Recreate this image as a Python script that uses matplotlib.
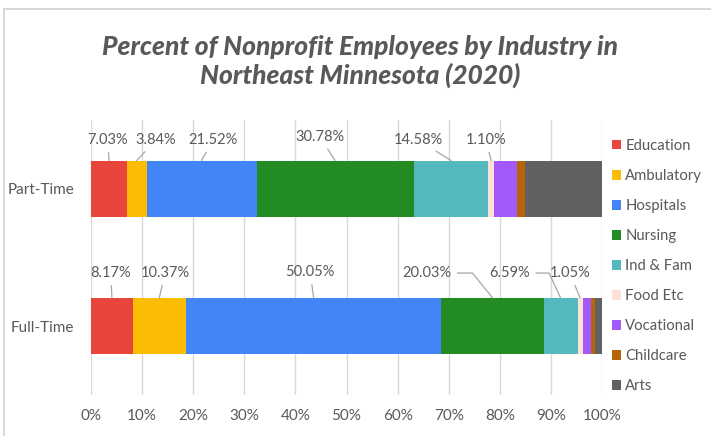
import matplotlib.pyplot as plt
from matplotlib.patches import Rectangle

plt.rcParams['font.family'] = ['Lato', 'DejaVu Sans']

# 数据
groups = ['Full-Time', 'Part-Time']
industries = ['Education', 'Ambulatory', 'Hospitals', 'Nursing', 'Ind & Fam',
              'Food Etc', 'Vocational', 'Childcare', 'Arts']
colors = ['#E8453C', '#FBBC04', '#4285F4', '#228B22', '#54B9BF',
          '#FCE1D9', '#A259F7', '#B8620A', '#616161']
full_time = [8.17, 10.37, 50.05, 20.03, 6.59, 1.05, 1.56, 0.78, 1.40]
part_time = [7.03, 3.84, 21.52, 30.78, 14.58, 1.10, 4.60, 1.55, 15.00]
xticks = [0, 10, 20, 30, 40, 50, 60, 70, 80, 90, 100]

grey = '#595959'
fig = plt.figure(figsize=(7.11, 4.36), dpi=100)

# 外框
fig.patches.append(Rectangle((4 / 711, -0.1), 1.1, 1 - 9 / 436 + 0.1,
                             transform=fig.transFigure, fill=False,
                             edgecolor='#d0d0d0', linewidth=1.2))

ax = fig.add_axes([91 / 711, 1 - 395 / 436, 511 / 711, 275 / 436])

bar_h = 0.41
values = [full_time, part_time]
for gi, vals in enumerate(values):
    left = 0
    for i, v in enumerate(vals):
        ax.barh(gi, v, left=left, height=bar_h, color=colors[i],
                label=industries[i] if gi == 0 else None, zorder=3)
        left += v

ax.set_xlim(0, 100)
ax.set_ylim(-0.5, 1.5)
ax.set_xticks(xticks)
ax.set_xticklabels([f'{t}%' for t in xticks])
ax.set_yticks([0, 1])
ax.set_yticklabels(groups)
ax.tick_params(length=0, colors=grey, labelsize=11)
ax.tick_params(axis='x', pad=10)
ax.tick_params(axis='y', pad=12)
ax.grid(axis='x', color='#d9d9d9', linewidth=1, zorder=0)
for s in ax.spines.values():
    s.set_visible(False)


def center(vals, i):
    return sum(vals[:i]) + vals[i] / 2


# 数据标签 (前六项), 标签位置 (x%, y)
pt_pos = [(3.3, 1.355), (12.7, 1.355), (23.9, 1.355), (44.8, 1.376),
          (64.0, 1.355), (77.3, 1.355)]
ft_pos = [(3.9, 0.387), (14.5, 0.387), (42.9, 0.395), (65.8, 0.387),
          (82.0, 0.387), (93.7, 0.387)]
ft_conn = [None, None, None, 'angle,angleA=0,angleB=-51,rad=0',
           'angle,angleA=0,angleB=-65,rad=0', None]

for i, (tx, ty) in enumerate(pt_pos):
    ax.annotate(f'{part_time[i]:.2f}%', xy=(center(part_time, i), 1 + bar_h / 2),
                xytext=(tx, ty), ha='center', va='center', fontsize=10.5,
                color=grey, zorder=4,
                arrowprops=dict(arrowstyle='-', color='#a6a6a6', lw=0.9,
                                shrinkA=2, shrinkB=0))

for i, (tx, ty) in enumerate(ft_pos):
    ap = dict(arrowstyle='-', color='#a6a6a6', lw=0.9, shrinkA=2, shrinkB=0)
    if ft_conn[i]:
        ap['connectionstyle'] = ft_conn[i]
    ax.annotate(f'{full_time[i]:.2f}%', xy=(center(full_time, i), bar_h / 2),
                xytext=(tx, ty), ha='center', va='center', fontsize=10.5,
                color=grey, zorder=4, arrowprops=ap)

# 标题
fig.text(0.507, 1 - 47 / 436, 'Percent of Nonprofit Employees by Industry in',
         ha='center', va='center', fontsize=19, fontweight='black',
         fontstyle='italic', color=grey)
fig.text(0.507, 1 - 75 / 436, 'Northeast Minnesota (2020)',
         ha='center', va='center', fontsize=19, fontweight='black',
         fontstyle='italic', color=grey)

# 图例
fig.legend(loc='upper left', bbox_to_anchor=(612 / 711, 1 - 139 / 436),
           frameon=False, fontsize=10.7, labelcolor=grey,
           handlelength=0.6, handleheight=0.6, handletextpad=0.3,
           labelspacing=1.08, borderaxespad=0, borderpad=0)

fig.savefig('out.png', dpi=100)
